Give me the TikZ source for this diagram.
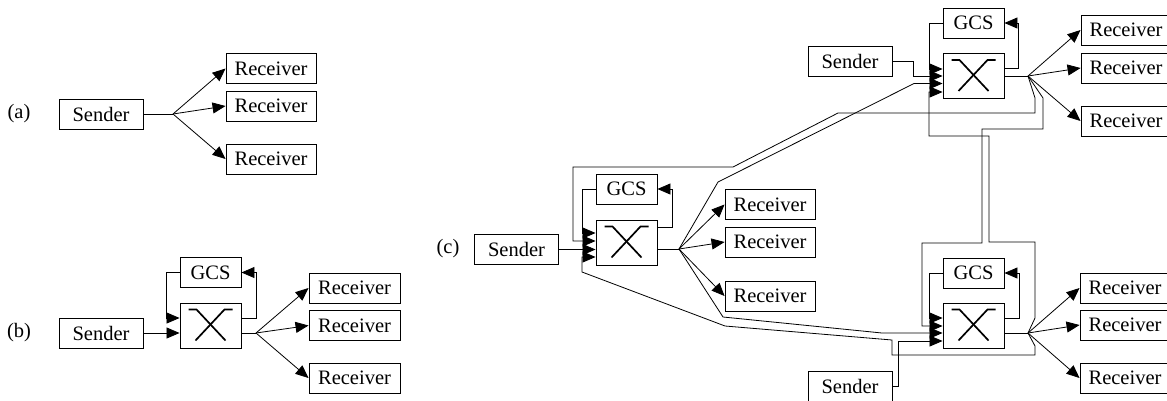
\documentclass[tikz,border=0pt]{standalone}
\usepackage{fontspec}
\setmainfont{Liberation Serif}
\usetikzlibrary{arrows.meta}
% crossbar symbol drawn inside a switch node
\newcommand\swsymbol[1]{%
  \draw[sym] ([shift={(-22,-16)}]#1.center) -- ++(8,0) -- ++(29,31);
  \draw[sym] ([shift={(22,-16)}]#1.center) -- ++(-8,0) -- ++(-29,31);}
\begin{document}
\begin{tikzpicture}[x=1pt,y=-1pt,
  box/.style={draw, line width=0.9pt, inner sep=0pt, font=\fontsize{20.5}{24}\selectfont},
  sendbox/.style={box, minimum width=84pt, minimum height=30pt},
  recvbox/.style={box, minimum width=90pt, minimum height=30pt},
  gcsbox/.style={box, minimum width=61pt, minimum height=30pt},
  swbox/.style={box, minimum width=61pt, minimum height=45pt},
  sym/.style={line width=1.7pt},
  wire/.style={line width=0.8pt},
  feed/.style={wire, -{Triangle[length=13pt,width=11pt]}},
  tag/.style={font=\fontsize{20.5}{24}\selectfont, inner sep=0pt}
]
\useasboundingbox (0,0) rectangle (1167,400);

% ---------------- (a) direct multicast ----------------
\node[tag] (la) at (19,114) {(a)};
\node[sendbox] (sa) at (101,114) {Sender};
\node[recvbox] (ra1) at (271,68.5) {Receiver};
\node[recvbox] (ra2) at (271,106) {Receiver};
\node[recvbox] (ra3) at (271,159) {Receiver};
\coordinate (fa) at (173,114);
\draw[wire] (sa.east) -- (fa);
\foreach \r in {ra1,ra2,ra3} \draw[feed] (fa) -- (\r.west);

% ---------------- (b) single switch with GCS ----------------
\node[tag] (lb) at (19,333) {(b)};
\node[sendbox] (sb) at (101,333) {Sender};
\node[gcsbox] (gb) at (210.5,272.5) {GCS};
\node[swbox] (wb) at (210.5,325.5) {};
\swsymbol{wb}
\node[recvbox, minimum width=91pt] (rb1) at (354.5,288) {Receiver};
\node[recvbox, minimum width=91pt] (rb2) at (354.5,325.5) {Receiver};
\node[recvbox, minimum width=91pt] (rb3) at (354.5,378) {Receiver};
\coordinate (fb) at (256,333);
\draw[feed] (sb.east) -- (wb.west |- sb.east);
\draw[feed] (gb.west) -| (166,318) -- (wb.west |- 0,318);
\draw[feed] (wb.east |- 0,318) -- (256,318) |- (gb.east);
\draw[wire] (wb.east |- 0,333) -- (fb);
\foreach \r in {rb1,rb2,rb3} \draw[feed] (fb) -- (\r.west);

% ---------------- (c) three interconnected switches ----------------
\node[tag] (lc) at (448,249) {(c)};

% left switch
\node[sendbox] (sL) at (516.5,249.5) {Sender};
\node[gcsbox] (gL) at (626.5,189) {GCS};
\node[swbox] (wL) at (626.5,242.5) {};
\swsymbol{wL}
\node[recvbox] (rL1) at (770,204.5) {Receiver};
\node[recvbox] (rL2) at (770,242) {Receiver};
\node[recvbox] (rL3) at (770,296) {Receiver};
\coordinate (fL) at (679,249);

% top switch
\node[sendbox] (sT) at (850,61.5) {Sender};
\node[gcsbox] (gT) at (973.5,23) {GCS};
\node[swbox] (wT) at (973.5,76) {};
\swsymbol{wT}
\node[recvbox] (rT1) at (1126,30) {Receiver};
\node[recvbox] (rT2) at (1126,68) {Receiver};
\node[recvbox] (rT3) at (1126,121) {Receiver};
\coordinate (fT) at (1028,76);

% bottom switch
\node[sendbox] (sB) at (850,386) {Sender};
\node[gcsbox] (gB) at (973.5,273) {GCS};
\node[swbox] (wB) at (973.5,325.5) {};
\swsymbol{wB}
\node[recvbox] (rB1) at (1125,288) {Receiver};
\node[recvbox] (rB2) at (1125,325) {Receiver};
\node[recvbox] (rB3) at (1125,378) {Receiver};
\coordinate (fB) at (1028,333);

% local wiring: left
\draw[feed] (sL.east) -- (wL.west |- sL.east);
\draw[feed] (gL.west) -| (582,233) -- (wL.west |- 0,233);
\draw[feed] (wL.east |- 0,227) -- (672,227) |- (gL.east);
\draw[wire] (wL.east |- 0,249) -- (fL);
\foreach \r in {rL1,rL2,rL3} \draw[feed] (fL) -- (\r.west);

% local wiring: top
\draw[feed] (sT.east) -- (913,61.5) |- (wT.west |- 0,76);
\draw[feed] (gT.west) -| (929,69) -- (wT.west |- 0,69);
\draw[feed] (wT.east |- 0,68) -- (1018,68) |- (gT.east);
\draw[wire] (wT.east |- 0,76) -- (fT);
\foreach \r in {rT1,rT2,rT3} \draw[feed] (fT) -- (\r.west);

% local wiring: bottom
\draw[feed] (sB.east) -- (898,386) |- (wB.west |- 0,341);
\draw[feed] (gB.west) -| (929,318) -- (wB.west |- 0,318);
\draw[feed] (wB.east |- 0,318) -- (1019,318) |- (gB.east);
\draw[wire] (wB.east |- 0,333) -- (fB);
\foreach \r in {rB1,rB2,rB3} \draw[feed] (fB) -- (\r.west);

% links between switches
\draw[feed] (fT) -- (1035,98) -- (1035,113) -- (838,113) -- (733,167) -- (573,167) |- (wL.west |- 0,241);
\draw[feed] (fL) -- (718,182) -- (914,83.5) -- (wT.west |- 0,83.5);
\draw[feed] (fL) -- (723,317) -- (882,333) -- (wB.west |- 0,333);
\draw[feed] (fB) -- (1035,346) -- (1035,355) -- (892,355) -- (892,340) -- (725,326) -- (582,272) |- (wL.west |- 0,257);
\draw[feed] (fB) -- (1035,318) -- (1035,242) -- (989,242) -- (989,136) -- (929,136) |- (wT.west |- 0,92);
\draw[feed] (fT) -- (1043,98) -- (1043,129) -- (982,129) -- (982,243) -- (922,243) |- (wB.west |- 0,326);
\end{tikzpicture}
\end{document}
